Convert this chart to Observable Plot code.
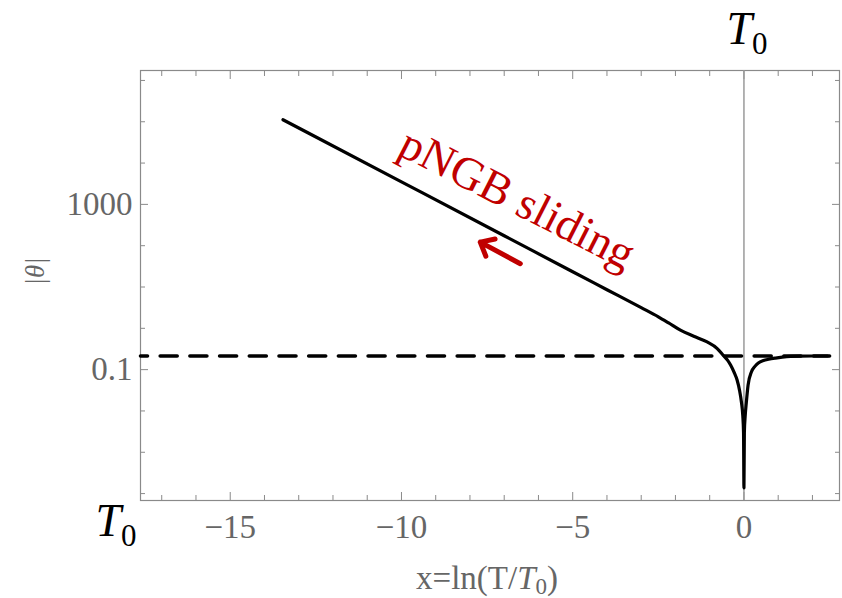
<!DOCTYPE html>
<html>
<head>
<meta charset="utf-8">
<script src="https://cdn.jsdelivr.net/npm/d3@7"></script>
<script src="https://cdn.jsdelivr.net/npm/@observablehq/plot@0.6"></script>
<style>
  html, body { margin: 0; padding: 0; background: #fff; }
  #chart svg { display: block; }
</style>
</head>
<body>
<div id="chart"></div>
<script>
// ---- data ----
const curveX = [-13.46, -10, -7, -5, -4, -3, -2.5, -2.2, -1.855, -1.467, -1.075, -0.78, -0.59, -0.48, -0.39, -0.29, -0.2, -0.13, -0.073, -0.035, -0.012, 0, 0.012, 0.038, 0.07, 0.12, 0.22, 0.32, 0.42, 0.57, 0.72, 0.92, 1.12, 1.36, 1.63, 2.0, 2.44];
const curveTheta = [1.12e5, 3510, 174, 23.4, 8.6, 3.16, 1.9, 1.35, 0.90, 0.645, 0.468, 0.324, 0.214, 0.17, 0.129, 0.087, 0.056, 0.032, 0.0162, 0.0079, 0.003, 0.000138, 0.003, 0.0079, 0.0162, 0.042, 0.089, 0.12, 0.145, 0.166, 0.178, 0.19, 0.20, 0.209, 0.213, 0.214, 0.214];
const plateauX = [-17.62, 2.5];
const plateauTheta = [0.213, 0.213];
const xMajorTicks = [-15, -10, -5, 0];
const xMinorTicks = [-17, -16, -14, -13, -12, -11, -9, -8, -7, -6, -4, -3, -2, -1, 1, 2];
const yMajorTicks = [1000, 0.1];
const yMajorLabels = ["1000", "0.1"];
const yMinorTicks = [1e6, 1e5, 1e4, 100, 10, 1, 0.01, 0.001, 1e-4];
const xDomain = [-17.62, 2.79];
const yDomain = [6.8e-5, 1.74e6];
const arrowTail = [-6.53, 36.7];
const arrowHead = [-7.70, 122];
const annotationText = "pNGB sliding";
const annotationAt = [-6.62, 1360];
const xLabel = "x=ln(T/T0)";
const yLabel = "|θ|";
const markerLabel = "T0";

const curve = curveX.map((x, i) => ({x, theta: curveTheta[i]}));
const plateau = plateauX.map((x, i) => ({x, theta: plateauTheta[i]}));

const gray = "#8a8a8a";
const textGray = "#666";
const red = "#c00000";
const serif = "Liberation Serif, Times New Roman, serif";

const plot = Plot.plot({
  width: 842,
  height: 598,
  marginLeft: 140,
  marginRight: 3,
  marginTop: 70,
  marginBottom: 98,
  style: {fontFamily: serif, background: "#fff", color: textGray},
  x: {domain: xDomain, label: null},
  y: {type: "log", domain: yDomain, label: null},
  marks: [
    Plot.frame({stroke: gray, strokeWidth: 1.2}),
    // inward ticks on all four sides
    Plot.axisX({anchor: "bottom", ticks: xMajorTicks, tickSize: 8, dy: -8, tickFormat: () => "", color: gray}),
    Plot.axisX({anchor: "bottom", ticks: xMinorTicks, tickSize: 5, dy: -5, tickFormat: () => "", color: gray}),
    Plot.axisX({anchor: "top", ticks: xMajorTicks, tickSize: 8, dy: 8, tickFormat: () => "", color: gray}),
    Plot.axisX({anchor: "top", ticks: xMinorTicks, tickSize: 5, dy: 5, tickFormat: () => "", color: gray}),
    Plot.axisY({anchor: "left", ticks: yMajorTicks, tickSize: 8, dx: 8, tickFormat: () => "", color: gray}),
    Plot.axisY({anchor: "left", ticks: yMinorTicks, tickSize: 5, dx: 5, tickFormat: () => "", color: gray}),
    Plot.axisY({anchor: "right", ticks: yMajorTicks, tickSize: 8, dx: -8, tickFormat: () => "", color: gray}),
    Plot.axisY({anchor: "right", ticks: yMinorTicks, tickSize: 5, dx: -5, tickFormat: () => "", color: gray}),
    // tick labels
    Plot.axisX({anchor: "bottom", ticks: xMajorTicks, tickSize: 0, tickPadding: 14, fontSize: 33, color: textGray}),
    Plot.axisY({anchor: "left", ticks: yMajorTicks, tickSize: 0, tickPadding: 8, fontSize: 33, color: textGray,
      tickFormat: (d) => yMajorLabels[yMajorTicks.indexOf(d)]}),
    // vertical line at x = 0
    Plot.ruleX([0], {stroke: "#9a9a9a", strokeWidth: 1.5}),
    // dashed plateau
    Plot.line(plateau, {x: "x", y: "theta", stroke: "#000", strokeWidth: 3.6, strokeDasharray: "17,12.7", strokeDashoffset: 10}),
    // curve
    Plot.line(curve, {x: "x", y: "theta", stroke: "#000", strokeWidth: 3.2, curve: "monotone-x"}),
    // red annotation
    Plot.text([annotationText], {x: annotationAt[0], y: annotationAt[1], text: (d) => d, rotate: 27, fill: red, fontSize: 46, fontFamily: serif}),
    Plot.arrow([0], {x1: arrowTail[0], y1: arrowTail[1], x2: arrowHead[0], y2: arrowHead[1], stroke: red, strokeWidth: 5, headLength: 14, headAngle: 80, strokeLinejoin: "miter"}),
    // axis labels
    Plot.text([xLabel], {frameAnchor: "bottom", text: (d) => d, dx: -3, dy: 88, lineAnchor: "bottom", fontSize: 33, fill: textGray, fontFamily: serif}),
    Plot.text([yLabel], {frameAnchor: "left", text: (d) => d, dx: -105, rotate: -90, fontSize: 27, fill: textGray, fontStyle: "italic", fontFamily: serif}),
    // T0 markers
    Plot.text([markerLabel], {x: 0, frameAnchor: "top", text: (d) => d, textAnchor: "start", lineAnchor: "bottom", dx: -17.5, dy: -27, fontSize: 46, fill: "#000", fontFamily: serif}),
    Plot.text([markerLabel], {frameAnchor: "bottom-left", text: (d) => d, textAnchor: "start", lineAnchor: "bottom", dx: -45, dy: 35, fontSize: 46, fill: "#000", fontFamily: serif})
  ]
});

document.getElementById("chart").appendChild(plot);

// rich text: italic T and subscript 0
const NS = "http://www.w3.org/2000/svg";
function tspan(txt, attrs) {
  const t = document.createElementNS(NS, "tspan");
  for (const k in attrs) t.setAttribute(k, attrs[k]);
  t.textContent = txt;
  return t;
}
plot.querySelectorAll("text").forEach((el) => {
  const s = el.textContent;
  if (s === markerLabel) {
    el.textContent = "";
    el.appendChild(tspan("T", {"font-style": "italic"}));
    el.appendChild(tspan("0", {"font-size": "31px", "dy": "10"}));
  } else if (s === xLabel) {
    el.textContent = "";
    el.appendChild(tspan("x=ln(T/", {}));
    el.appendChild(tspan("T", {"font-style": "italic"}));
    el.appendChild(tspan("0", {"font-size": "23px", "dy": "5"}));
    el.appendChild(tspan(")", {"dy": "-5"}));
  }
});
</script>
</body>
</html>
